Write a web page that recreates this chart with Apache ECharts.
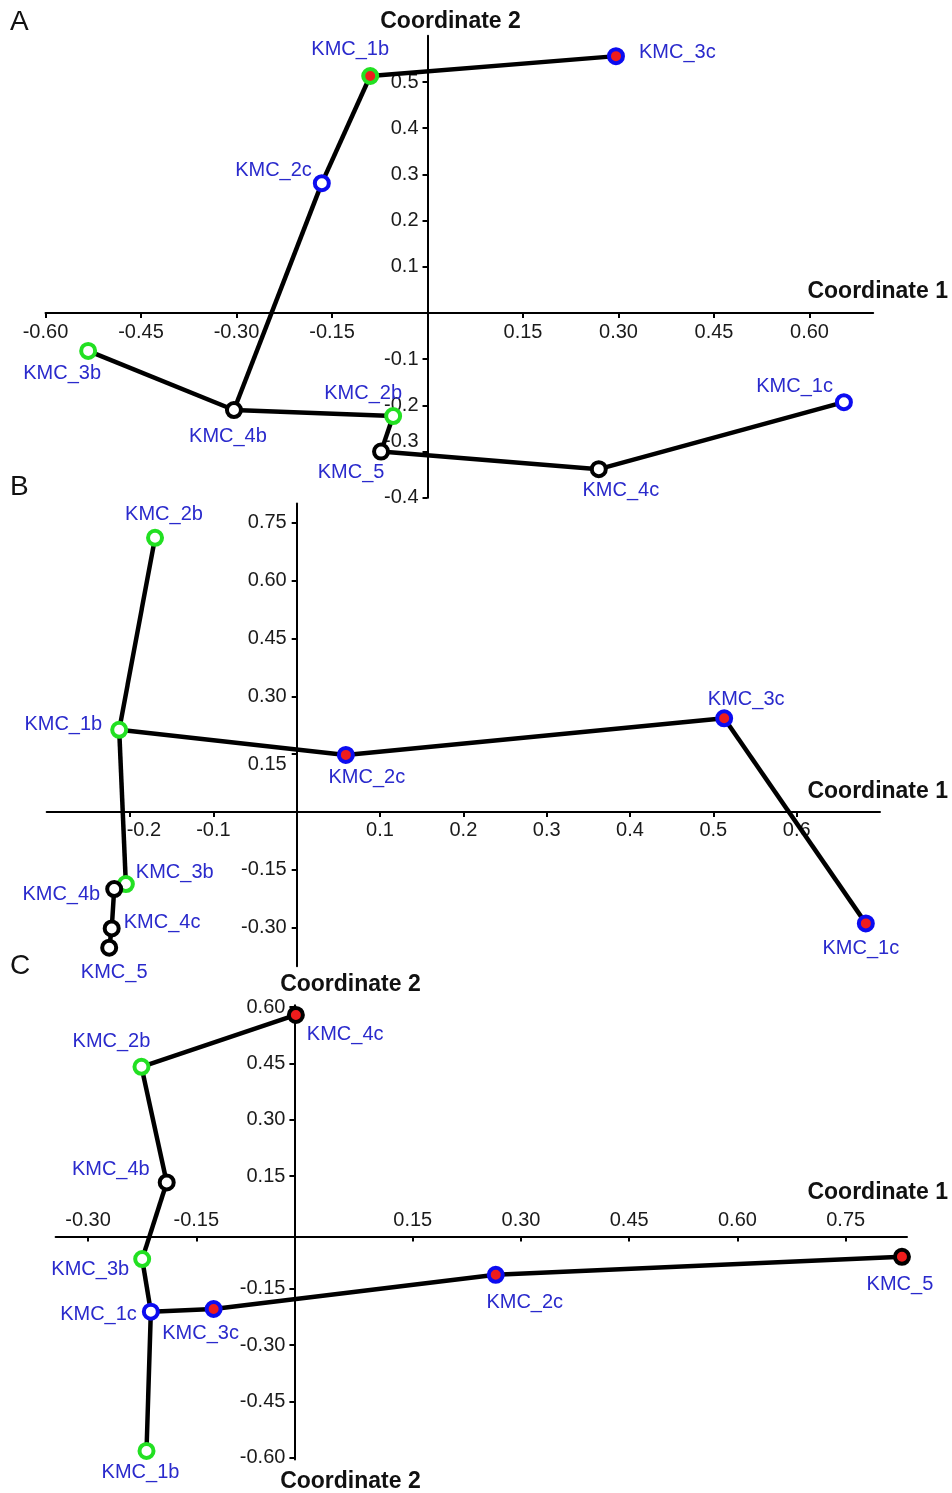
<!DOCTYPE html>
<html><head><meta charset="utf-8">
<script src="https://cdn.jsdelivr.net/npm/echarts@6/dist/echarts.min.js"></script>
<style>html,body{margin:0;padding:0;background:#fff}#c{width:952px;height:1493px}</style>
</head><body><div id="c"></div>
<script>
// ---------------- DATA ----------------
// Panel A
const namesA = ['KMC_1b','KMC_3c','KMC_2c','KMC_3b','KMC_4b','KMC_2b','KMC_5','KMC_4c','KMC_1c'];
const coord1A = [-0.090, 0.296, -0.166, -0.533, -0.304, -0.054, -0.073, 0.269, 0.654];
const coord2A = [0.513, 0.556, 0.281, -0.082, -0.210, -0.223, -0.300, -0.338, -0.193];
const redA = ['KMC_1b','KMC_3c'];
const edgesA = [['KMC_1b','KMC_3c'],['KMC_1b','KMC_2c'],['KMC_2c','KMC_4b'],['KMC_4b','KMC_3b'],['KMC_4b','KMC_2b'],['KMC_2b','KMC_5'],['KMC_5','KMC_4c'],['KMC_4c','KMC_1c']];
const xTicksA = ['-0.60','-0.45','-0.30','-0.15','0.15','0.30','0.45','0.60'];
const yTicksA = ['-0.4','-0.3','-0.2','-0.1','0.1','0.2','0.3','0.4','0.5'];

// Panel B
const namesB = ['KMC_2b','KMC_1b','KMC_2c','KMC_3c','KMC_1c','KMC_3b','KMC_4b','KMC_4c','KMC_5'];
const coord1B = [-0.170, -0.213, 0.059, 0.513, 0.683, -0.205, -0.219, -0.222, -0.225];
const coord2B = [0.711, 0.213, 0.148, 0.243, -0.289, -0.187, -0.200, -0.302, -0.352];
const redB = ['KMC_2c','KMC_3c','KMC_1c'];
const edgesB = [['KMC_2b','KMC_1b'],['KMC_1b','KMC_2c'],['KMC_2c','KMC_3c'],['KMC_3c','KMC_1c'],['KMC_1b','KMC_3b'],['KMC_3b','KMC_4b'],['KMC_4b','KMC_4c'],['KMC_4c','KMC_5']];
const xTicksB = ['-0.2','-0.1','0.1','0.2','0.3','0.4','0.5','0.6'];
const yTicksB = ['-0.30','-0.15','0.15','0.30','0.45','0.60','0.75'];

// Panel C
const namesC = ['KMC_4c','KMC_2b','KMC_4b','KMC_3b','KMC_1c','KMC_3c','KMC_1b','KMC_2c','KMC_5'];
const coord1C = [-0.012, -0.226, -0.191, -0.225, -0.213, -0.126, -0.219, 0.265, 0.828];
const coord2C = [0.579, 0.441, 0.133, -0.071, -0.211, -0.204, -0.582, -0.113, -0.065];
const redC = ['KMC_4c','KMC_3c','KMC_2c','KMC_5'];
const edgesC = [['KMC_4c','KMC_2b'],['KMC_2b','KMC_4b'],['KMC_4b','KMC_3b'],['KMC_3b','KMC_1c'],['KMC_1c','KMC_1b'],['KMC_1c','KMC_3c'],['KMC_3c','KMC_2c'],['KMC_2c','KMC_5']];
const xTicksC = ['-0.30','-0.15','0.15','0.30','0.45','0.60','0.75'];
const yTicksC = ['-0.60','-0.45','-0.30','-0.15','0.15','0.30','0.45','0.60'];

// sample group of each sample (ring colour)
const groupOf = {KMC_1b:'b',KMC_2b:'b',KMC_3b:'b',KMC_1c:'c',KMC_2c:'c',KMC_3c:'c',KMC_4b:'k',KMC_4c:'k',KMC_5:'k'};

// ---------------- STYLE / LAYOUT ----------------
const FONT = 'Liberation Sans, Arial, Helvetica, sans-serif';
const RING = {b:'#22e022', c:'#0c0cf0', k:'#000000'};
const RED = '#ee1c1c';
const LABEL_COLOR = '#2a2acc';
const AXIS_TEXT = '#1a1a1a';

// label placement per panel: [position, dx, dy]
const labelPosA = {KMC_1b:['top',-20,-3], KMC_3c:['right',9,-4], KMC_2c:['left',4,-13], KMC_3b:['bottom',-26,-1],
  KMC_4b:['bottom',-6,2], KMC_2b:['top',-30,1], KMC_5:['bottom',-30,-3], KMC_4c:['bottom',22,-3], KMC_1c:['left',3,-16]};
const labelPosB = {KMC_2b:['top',9,1], KMC_1b:['left',-3,-5], KMC_2c:['bottom',21,-1], KMC_3c:['top',22,5],
  KMC_1c:['bottom',-5,1], KMC_3b:['right',-4,-12], KMC_4b:['left',0,5], KMC_4c:['right',-2,-6], KMC_5:['bottom',5,1]};
const labelPosC = {KMC_4c:['right',-3,20], KMC_2b:['top',-30,-1], KMC_4b:['left',-3,-13], KMC_3b:['left',1,10],
  KMC_1c:['left',0,3], KMC_3c:['bottom',-13,0], KMC_1b:['bottom',-6,-2], KMC_2c:['bottom',29,4], KMC_5:['bottom',-2,4]};

// tick-label nudges as in the original figure: 'up' / 'down' (y labels), spaces count (x labels)
const panels = [
  {letter:'A', letterTop:8, grid:{left:45.5, top:35.8, width:827.7, height:462},
   xr:[-0.60,0.70], yr:[-0.4,0.6], names:namesA, xs:coord1A, ys:coord2A, red:redA, edges:edgesA,
   xt:xTicksA, yt:yTicksA, lp:labelPosA, xInside:false, xMargin:9, yMargin:9,
   yNudge:{'-0.3':'up'}, xNudge:{},
   x1top:279, y2top:{gap:3, shift:23}, y2bottom:null, xCross:0, yCross:0},
  {letter:'B', letterTop:473, grid:{left:46.7, top:503.5, width:833.3, height:462.7},
   xr:[-0.3,0.7], yr:[-0.4,0.8], names:namesB, xs:coord1B, ys:coord2B, red:redB, edges:edgesB,
   xt:xTicksB, yt:yTicksB, lp:labelPosB, xInside:false, xMargin:9, yMargin:10,
   yNudge:{'0.15':'down'}, xNudge:{'-0.2':5},
   x1top:779, y2top:null, y2bottom:null, xCross:0, yCross:0},
  {letter:'C', letterTop:952, grid:{left:55.6, top:1005.2, width:851.4, height:454.4},
   xr:[-0.345,0.835], yr:[-0.605,0.605], names:namesC, xs:coord1C, ys:coord2C, red:redC, edges:edgesC,
   xt:xTicksC, yt:yTicksC, lp:labelPosC, xInside:true, xMargin:6, yMargin:9,
   yNudge:{}, xNudge:{},
   x1top:1180, y2top:{gap:9, shift:56}, y2bottom:{gap:11, shift:56}, xCross:-0.011, yCross:-0.014}
];

function lookup(labels, nudge, isY){
  return v => {
    const s = labels.find(t => Math.abs(Number(t) - v) < 1e-9);
    if (s === undefined) return '';
    const n = nudge[s];
    if (!n) return s;
    if (isY) return n === 'up' ? s + '\n' : '\n' + s;
    return ' '.repeat(n) + s;
  };
}

const grids = [], xAxes = [], yAxes = [], series = [], titles = [];
panels.forEach((p, gi) => {
  grids.push(Object.assign({outerBoundsMode:'none', containLabel:false}, p.grid));
  titles.push({text:p.letter, left:10, top:p.letterTop, padding:0,
    textStyle:{fontSize:28, fontWeight:'normal', color:'#111', fontFamily:FONT}});
  titles.push({text:'Coordinate 1', right:4, top:p.x1top, padding:0,
    textStyle:{fontSize:23, fontWeight:'bold', color:'#111', fontFamily:FONT, lineHeight:26}});
  const xv = p.xt.map(Number), yv = p.yt.map(Number);
  const xOffset = -((p.xCross - p.yr[0]) / (p.yr[1] - p.yr[0])) * p.grid.height;
  const yOffset = -((p.yCross - p.xr[0]) / (p.xr[1] - p.xr[0])) * p.grid.width;
  const xi = xAxes.length;
  xAxes.push({
    gridIndex:gi, type:'value', min:p.xr[0], max:p.xr[1], position:'bottom', offset:xOffset,
    axisLine:{show:true, onZero:false, lineStyle:{color:'#000', width:2}},
    splitLine:{show:false},
    axisTick:{show:true, customValues:xv, length:5, inside:false, lineStyle:{color:'#000', width:2}},
    axisLabel:{show:true, customValues:xv, formatter:lookup(p.xt, p.xNudge, false), inside:p.xInside, margin:p.xMargin,
      fontSize:20, lineHeight:20, color:AXIS_TEXT, fontFamily:FONT, showMinLabel:true, showMaxLabel:true, hideOverlap:false}
  });
  const yi = yAxes.length;
  const yMain = {
    gridIndex:gi, type:'value', min:p.yr[0], max:p.yr[1], position:'left', offset:yOffset,
    axisLine:{show:true, onZero:false, lineStyle:{color:'#000', width:2}},
    splitLine:{show:false},
    axisTick:{show:true, customValues:yv, length:5, lineStyle:{color:'#000', width:2}},
    axisLabel:{show:true, customValues:yv, formatter:lookup(p.yt, p.yNudge, true), margin:p.yMargin,
      fontSize:20, lineHeight:20, color:AXIS_TEXT, fontFamily:FONT, showMinLabel:true, showMaxLabel:true, hideOverlap:false}
  };
  if (p.y2top) {
    yMain.name = 'Coordinate 2'; yMain.nameLocation = 'end'; yMain.nameGap = p.y2top.gap; yMain.nameMoveOverlap = false;
    yMain.nameTextStyle = {fontSize:23, fontWeight:'bold', color:'#111', fontFamily:FONT, align:'center',
      padding:[0,0,0,2*p.y2top.shift]};
  }
  yAxes.push(yMain);
  if (p.y2bottom) {
    yAxes.push({
      gridIndex:gi, type:'value', min:p.yr[0], max:p.yr[1], position:'left', offset:yOffset,
      axisLine:{show:false, onZero:false}, axisTick:{show:false}, axisLabel:{show:false}, splitLine:{show:false},
      name:'Coordinate 2', nameLocation:'start', nameGap:p.y2bottom.gap, nameMoveOverlap:false,
      nameTextStyle:{fontSize:23, fontWeight:'bold', color:'#111', fontFamily:FONT, align:'center',
        padding:[0,0,0,2*p.y2bottom.shift]}
    });
  }
  const nodes = p.names.map((n, i) => {
    const lp = p.lp[n];
    return {
      name:n, value:[p.xs[i], p.ys[i]],
      itemStyle:{color: p.red.includes(n) ? RED : '#ffffff', borderColor: RING[groupOf[n]], borderWidth:4},
      label:{position:lp[0], offset:[lp[1], lp[2]]}
    };
  });
  series.push({
    type:'graph', layout:'none', coordinateSystem:'cartesian2d', xAxisIndex:xi, yAxisIndex:yi,
    symbol:'circle', symbolSize:14, roam:false, draggable:false, silent:true,
    data:nodes,
    links:p.edges.map(e => ({source:e[0], target:e[1]})),
    lineStyle:{color:'#000', width:4.5, opacity:1, curveness:0},
    label:{show:true, color:LABEL_COLOR, fontSize:20, fontFamily:FONT, distance:5},
    emphasis:{disabled:true}, z:5
  });
});

const chart = echarts.init(document.getElementById('c'), null, {renderer:'canvas'});
chart.setOption({
  backgroundColor:'#fff', animation:false,
  title:titles, grid:grids, xAxis:xAxes, yAxis:yAxes, series:series
});
</script></body></html>
